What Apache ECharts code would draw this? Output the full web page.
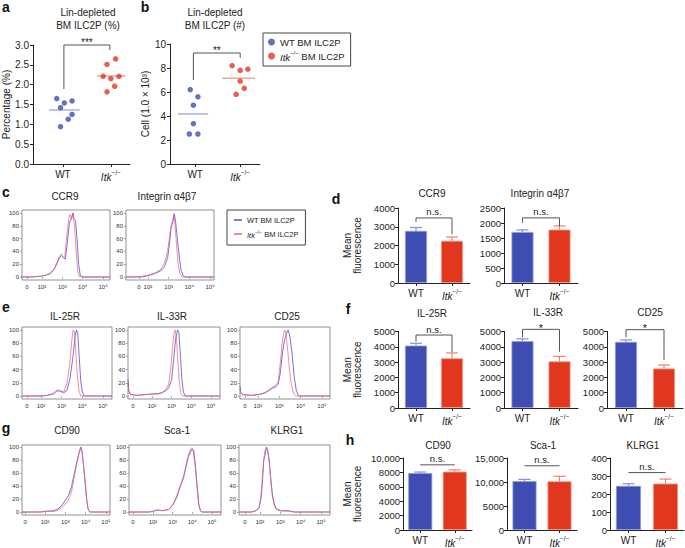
<!DOCTYPE html>
<html><head><meta charset="utf-8">
<script src="https://cdn.jsdelivr.net/npm/echarts@6/dist/echarts.min.js"></script>
<style>html,body{margin:0;padding:0;background:#fff}#main{width:685px;height:548px}</style>
</head><body><div id="main"></div>
<script>
// ================= DATA =================
const catLabels = ['WT', 'Itk'];
// panel a: Lin-depleted BM ILC2P (%)
const pctWT = [1.65, 1.54, 1.42, 1.59, 1.25, 1.13, 0.94];
const pctWTjitter = [-0.13, 0.03, -0.05, 0.19, 0.19, 0.11, -0.05];
const pctKO = [2.51, 2.65, 2.21, 2.15, 2.21, 1.82, 1.96];
const pctKOjitter = [-0.08, 0.10, -0.16, 0.00, 0.17, -0.08, 0.08];
// panel b: Lin-depleted BM ILC2P (#), x1000 cells
const cellWT = [6.2, 5.6, 4.9, 3.36, 2.5, 2.5];
const cellWTjitter = [-0.11, 0.06, -0.04, -0.04, -0.13, 0.06];
const cellKO = [8.2, 7.8, 7.9, 6.9, 6.3, 5.8];
const cellKOjitter = [-0.18, 0.00, 0.17, 0.00, 0.09, -0.09];

// flow histograms: [log10 position (decades), % of max]
const histTickText = ['0', '10\u00b2', '10\u00b3', '10\u2074', '10\u2075'];
const histYTicks = [0, 20, 40, 60, 80, 100];
const ccr9WT = [[1.0,0],[1.5,0],[1.9,1],[2.2,3],[2.4,5],[2.6,12],[2.75,22],[2.85,30],[2.95,33],[3.05,30],[3.15,28],[3.25,55],[3.35,85],[3.45,92],[3.52,100],[3.58,90],[3.65,88],[3.72,60],[3.8,20],[3.88,3],[4.0,0],[5.34,0]];
const ccr9KO = [[1.0,0],[1.9,1],[2.2,3],[2.4,6],[2.6,13],[2.75,24],[2.85,32],[2.95,36],[3.05,31],[3.12,32],[3.22,65],[3.32,92],[3.38,98],[3.45,90],[3.52,99],[3.6,80],[3.68,40],[3.75,10],[3.82,1],[4.0,0],[5.34,0]];
const itgWT = [[0.94,0],[1.7,0],[2.0,2],[2.3,5],[2.6,9],[2.8,16],[2.95,30],[3.05,55],[3.12,78],[3.2,85],[3.27,99],[3.33,88],[3.42,60],[3.52,30],[3.6,10],[3.7,2],[3.8,0],[5.19,0]];
const itgKO = [[0.94,0],[1.7,1],[2.0,3],[2.3,6],[2.6,11],[2.8,22],[2.95,40],[3.05,65],[3.12,82],[3.18,86],[3.25,97],[3.3,85],[3.38,50],[3.46,20],[3.55,5],[3.65,0],[5.19,0]];
const il25WT = [[1.08,0],[2.0,0],[2.3,1],[2.6,3],[2.75,7],[2.85,8],[2.95,7],[3.1,5],[3.25,8],[3.4,25],[3.55,60],[3.65,90],[3.72,100],[3.78,95],[3.85,60],[3.92,25],[4.0,6],[4.1,0],[5.44,0]];
const il25KO = [[1.08,0],[2.0,0],[2.3,1],[2.6,4],[2.75,9],[2.85,9],[2.95,8],[3.1,6],[3.25,18],[3.38,45],[3.48,80],[3.55,100],[3.62,98],[3.68,70],[3.75,35],[3.83,10],[3.92,0],[5.44,0]];
const il33WT = [[0.78,25],[0.82,8],[0.9,3],[1.2,1],[1.6,2],[2.0,3],[2.3,3],[2.5,5],[2.7,8],[2.85,12],[3.0,25],[3.1,55],[3.2,85],[3.3,100],[3.37,96],[3.45,60],[3.52,25],[3.6,6],[3.7,0],[5.46,0]];
const il33KO = [[0.78,18],[0.82,6],[0.9,2],[1.2,1],[1.6,2],[2.0,3],[2.3,4],[2.5,5],[2.7,9],[2.85,18],[2.95,40],[3.05,75],[3.12,95],[3.18,100],[3.25,85],[3.32,50],[3.4,18],[3.48,4],[3.58,0],[5.46,0]];
const cd25WT = [[1.16,15],[1.2,5],[1.3,2],[1.7,1],[2.0,2],[2.3,4],[2.5,8],[2.7,12],[2.85,14],[2.95,18],[3.05,35],[3.15,65],[3.25,85],[3.35,95],[3.42,100],[3.5,90],[3.6,65],[3.7,30],[3.8,8],[3.9,1],[4.0,0],[5.38,0]];
const cd25KO = [[1.16,10],[1.2,4],[1.3,2],[1.7,1],[2.0,2],[2.3,5],[2.5,9],[2.7,14],[2.85,17],[2.95,22],[3.05,50],[3.15,85],[3.25,100],[3.3,97],[3.38,75],[3.48,40],[3.58,15],[3.68,3],[3.78,0],[5.38,0]];
const cd90WT = [[0.87,0],[1.8,0],[2.0,1],[2.4,2],[2.6,4],[2.8,9],[3.0,18],[3.15,25],[3.3,38],[3.45,60],[3.55,75],[3.62,82],[3.7,95],[3.77,100],[3.83,92],[3.9,70],[3.98,45],[4.05,20],[4.12,5],[4.2,0],[5.2,0]];
const cd90KO = [[0.87,0],[1.8,0],[2.0,1],[2.4,1],[2.6,2],[2.8,6],[3.0,12],[3.15,18],[3.3,30],[3.45,55],[3.55,72],[3.62,85],[3.7,92],[3.77,98],[3.83,90],[3.9,72],[3.98,45],[4.05,20],[4.12,5],[4.2,0],[5.2,0]];
const sca1WT = [[0.78,0],[1.8,0],[2.0,1],[2.2,3],[2.5,2],[2.8,4],[3.0,10],[3.2,22],[3.4,40],[3.55,52],[3.65,65],[3.8,85],[3.92,93],[4.0,97],[4.07,95],[4.15,75],[4.25,40],[4.33,12],[4.42,2],[4.5,0],[5.46,0]];
const sca1KO = [[0.78,0],[1.8,0],[2.0,1],[2.2,3],[2.5,2],[2.8,4],[3.0,11],[3.2,24],[3.4,42],[3.55,55],[3.65,68],[3.8,88],[3.92,97],[3.98,99],[4.05,92],[4.15,70],[4.25,35],[4.33,10],[4.42,1],[4.5,0],[5.46,0]];
const klrg1WT = [[0.97,0],[1.6,0],[1.8,2],[1.95,6],[2.05,20],[2.12,45],[2.18,78],[2.25,88],[2.32,100],[2.38,95],[2.45,80],[2.52,55],[2.6,30],[2.7,12],[2.8,5],[3.0,2],[3.4,2],[3.7,0],[5.44,0]];
const klrg1KO = [[0.97,0],[1.6,0],[1.8,2],[1.95,7],[2.05,25],[2.12,55],[2.18,80],[2.25,95],[2.3,98],[2.38,94],[2.45,78],[2.52,50],[2.6,27],[2.7,10],[2.8,4],[3.0,2],[3.4,1],[3.7,0],[5.44,0]];

// mean fluorescence bar charts
const barMarkers = ['CCR9', 'Integrin \u03b14\u03b27', 'IL-25R', 'IL-33R', 'CD25', 'CD90', 'Sca-1', 'KLRG1'];
const barWTmean = [2780, 1700, 4080, 4370, 4320, 7900, 10200, 245];
const barWTerr  = [180, 70, 150, 150, 130, 150, 350, 12];
const barKOmean = [2250, 1780, 3250, 3050, 2580, 8100, 10150, 258];
const barKOerr  = [200, 120, 350, 320, 230, 250, 1050, 25];
const barSig    = ['n.s.', 'n.s.', 'n.s.', '*', '*', 'n.s.', 'n.s.', 'n.s.'];
const barBracketTop   = [3470, 2170, 4770, 5140, 5120, 9050, 13380, 319];
const barBracketLeft  = [3250, 2010, 4330, 4620, 4620, 9050, 13380, 319];
const barBracketRight = [2600, 1900, 3650, 3680, 3140, 9050, 13380, 319];
const barYMax = [4000, 2500, 5000, 5000, 5000, 10000, 15000, 400];
const barYInterval = [1000, 500, 1000, 1000, 1000, 2000, 5000, 100];

// ================= STYLE / LAYOUT =================
const FONT = "'Liberation Sans', Arial, Helvetica, sans-serif";
const BLUE = '#3f4db3', RED = '#e2371f';
const BLUE_L = '#a8b2e2', RED_L = '#f3a797';
const HBLUE = '#5a4ccb', HRED = '#ec6478';
const AX = '#222';
const itkRich = {
  it: {fontStyle: 'italic', fontSize: 10, fontFamily: FONT, color: AX, lineHeight: 13, verticalAlign: 'bottom'},
  sup: {fontSize: 6.5, fontFamily: FONT, color: AX, lineHeight: 7, verticalAlign: 'top'}
};
function catFmt(v) { return v === 'Itk' ? '{it|Itk}{sup|\u2212/\u2212}' : v; }

const grids = [], xAxes = [], yAxes = [], series = [], graphics = [];

function bracketSeries(gi, data, label, color, fs, dy) {
  return {
    type: 'custom', xAxisIndex: gi, yAxisIndex: gi, silent: true, z: 5,
    data: data, encode: {x: [0, 1], y: [2, 3, 4]},
    renderItem: function (params, api) {
      const x0 = api.value(0), x1 = api.value(1);
      const pl = api.coord([x0, api.value(3)]);
      const pt0 = api.coord([x0, api.value(2)]);
      const pt1 = api.coord([x1, api.value(2)]);
      const pr = api.coord([x1, api.value(4)]);
      return {type: 'group', children: [
        {type: 'polyline', shape: {points: [pl, pt0, pt1, pr]}, style: {stroke: color, fill: null, lineWidth: 1}},
        {type: 'text', x: (pt0[0] + pt1[0]) / 2, y: pt0[1] - 1 + (dy || 0),
         style: {text: label, align: 'center', verticalAlign: 'bottom', fontSize: fs, fontFamily: FONT, fill: '#222'}}
      ]};
    }
  };
}

// ---------- scatter panels a, b ----------
function scatterPanel(cfg) {
  const gi = grids.length;
  grids.push({left: cfg.grid[0], top: cfg.grid[1], width: cfg.grid[2], height: cfg.grid[3]});
  xAxes.push({gridIndex: gi, type: 'value', min: cfg.xr[0], max: cfg.xr[1],
    axisLine: {show: true, lineStyle: {color: AX, width: 1}}, splitLine: {show: false},
    axisTick: {show: true, customValues: [1, 2], length: 3, lineStyle: {color: AX}},
    axisLabel: {customValues: [1, 2], margin: 5, fontSize: 10, fontFamily: FONT, color: AX,
      formatter: v => catFmt(catLabels[Math.round(v) - 1]), rich: itkRich}});
  yAxes.push({gridIndex: gi, type: 'value', min: 0, max: cfg.ymax, interval: cfg.interval,
    axisLine: {show: true, lineStyle: {color: AX, width: 1}}, splitLine: {show: false},
    axisTick: {show: true, length: 3, lineStyle: {color: AX}},
    axisLabel: {fontSize: 10, fontFamily: FONT, color: AX, margin: 4, formatter: cfg.yfmt},
    name: cfg.yname, nameLocation: 'middle', nameGap: cfg.nameGap, nameRotate: 90,
    nameTextStyle: {fontSize: 10, fontFamily: FONT, color: AX}});
  const mWT = cfg.wt.reduce((a, b) => a + b, 0) / cfg.wt.length;
  const mKO = cfg.ko.reduce((a, b) => a + b, 0) / cfg.ko.length;
  series.push({type: 'line', xAxisIndex: gi, yAxisIndex: gi, silent: true, symbol: 'none', z: 1,
    lineStyle: {color: BLUE_L, width: 1.5}, data: [[1 + cfg.mlWT[0], mWT], [1 + cfg.mlWT[1], mWT]]});
  series.push({type: 'line', xAxisIndex: gi, yAxisIndex: gi, silent: true, symbol: 'none', z: 1,
    lineStyle: {color: RED_L, width: 1.5}, data: [[2 + cfg.mlKO[0], mKO], [2 + cfg.mlKO[1], mKO]]});
  series.push({name: 'WT', type: 'scatter', xAxisIndex: gi, yAxisIndex: gi, symbolSize: 5.5, z: 3,
    itemStyle: {color: BLUE}, data: cfg.wt.map((v, i) => [1 + cfg.wtj[i], v])});
  series.push({name: 'Itk', type: 'scatter', xAxisIndex: gi, yAxisIndex: gi, symbolSize: 5.5, z: 3,
    itemStyle: {color: RED}, data: cfg.ko.map((v, i) => [2 + cfg.koj[i], v])});
  series.push(bracketSeries(gi, [cfg.bracket], cfg.sig, '#555', 10, 3));
}
scatterPanel({grid: [33, 45, 97, 119], xr: [0.375, 2.4], ymax: 3, interval: 0.5, yfmt: v => v.toFixed(1),
  yname: 'Percentage (%)', nameGap: 19, wt: pctWT, wtj: pctWTjitter, ko: pctKO, koj: pctKOjitter,
  mlWT: [-0.29, 0.35], mlKO: [-0.29, 0.31], bracket: [1.02, 1.98, 3.0, 1.89, 2.87], sig: '***'});
scatterPanel({grid: [170, 44, 90, 120], xr: [0.44, 2.44], ymax: 10, interval: 2, yfmt: v => String(v),
  yname: 'Cell (1.0 \u00d7 10\u00b3)', nameGap: 14, wt: cellWT, wtj: cellWTjitter, ko: cellKO, koj: cellKOjitter,
  mlWT: [-0.38, 0.29], mlKO: [-0.4, 0.33], bracket: [0.96, 2.0, 9.25, 7.0, 8.83], sig: '**'});

// ---------- histogram panels c, e, g ----------
const histPanels = [
  {wt: ccr9WT, ko: ccr9KO, grid: [22, 210, 88, 70], y: [-4.7, 104.7], x: [1.02, 5.34], zero: 1.26, title: [65, 196], name: 'CCR9'},
  {wt: itgWT, ko: itgKO, grid: [126, 210, 88, 70], y: [-4.7, 104.7], x: [0.94, 5.19], zero: 1.56, title: [167, 196], name: 'Integrin \u03b14\u03b27'},
  {wt: il25WT, ko: il25KO, grid: [22, 327, 90, 72], y: [-4.5, 104.5], x: [1.08, 5.44], zero: 1.32, title: [65, 316], name: 'IL-25R'},
  {wt: il33WT, ko: il33KO, grid: [128, 327, 92, 72], y: [-4.5, 104.5], x: [0.78, 5.46], zero: 1.03, title: [172, 316], name: 'IL-33R'},
  {wt: cd25WT, ko: cd25KO, grid: [240, 327, 90, 72], y: [-4.5, 104.5], x: [1.16, 5.38], zero: 1.39, title: [287, 316], name: 'CD25'},
  {wt: cd90WT, ko: cd90KO, grid: [22, 445, 88, 70], y: [-4.6, 103.1], x: [0.87, 5.2], zero: 1.02, title: [67, 430], name: 'CD90'},
  {wt: sca1WT, ko: sca1KO, grid: [129, 445, 92, 70], y: [-4.6, 103.1], x: [0.78, 5.46], zero: 0.98, title: [177, 430], name: 'Sca-1'},
  {wt: klrg1WT, ko: klrg1KO, grid: [239, 445, 91, 70], y: [-4.6, 103.1], x: [0.97, 5.44], zero: 1.26, title: [287, 430], name: 'KLRG1'}
];
histPanels.forEach(p => {
  const gi = grids.length;
  grids.push({left: p.grid[0], top: p.grid[1], width: p.grid[2], height: p.grid[3], show: true,
    borderColor: '#777', borderWidth: 0.8, backgroundColor: 'transparent'});
  const xv = [p.zero, 2, 3, 4, 5];
  xAxes.push({gridIndex: gi, type: 'value', min: p.x[0], max: p.x[1], axisLine: {show: false}, splitLine: {show: false},
    axisTick: {show: true, customValues: xv, length: 2, lineStyle: {color: '#777', width: 0.6}},
    axisLabel: {customValues: xv, fontSize: 6, margin: 4, color: '#333', fontFamily: FONT, hideOverlap: false,
      formatter: v => { const i = xv.findIndex(t => Math.abs(t - v) < 1e-6); return i >= 0 ? histTickText[i] : ''; }}});
  yAxes.push({gridIndex: gi, type: 'value', min: p.y[0], max: p.y[1], axisLine: {show: false}, splitLine: {show: false},
    axisTick: {show: true, customValues: histYTicks, length: 2, lineStyle: {color: '#777', width: 0.6}},
    axisLabel: {customValues: histYTicks, fontSize: 6, margin: 3, color: '#333', fontFamily: FONT}});
  series.push({name: 'WT hist', type: 'line', xAxisIndex: gi, yAxisIndex: gi, showSymbol: false, symbol: 'none',
    lineStyle: {color: HBLUE, width: 0.8}, itemStyle: {color: HBLUE}, data: p.wt});
  series.push({name: 'Itk hist', type: 'line', xAxisIndex: gi, yAxisIndex: gi, showSymbol: false, symbol: 'none',
    lineStyle: {color: HRED, width: 0.8, opacity: 0.9}, itemStyle: {color: HRED}, data: p.ko});
  graphics.push({type: 'text', x: p.title[0], y: p.title[1],
    style: {text: p.name, align: 'center', verticalAlign: 'middle', fontSize: 10, fontFamily: FONT, fill: '#222'}});
});

// ---------- bar panels d, f, h ----------
const barLayout = [
  {grid: [398, 208, 72, 75], title: [432, 193], yname: true, nameGap: 36, bw: 22},
  {grid: [504, 208, 74, 75], title: [540, 193], bw: 22},
  {grid: [398, 331.5, 72, 76.5], title: [432, 313], yname: true, nameGap: 36, bw: 22},
  {grid: [504, 331.5, 74, 76.5], title: [548, 312], bw: 22},
  {grid: [607, 331.5, 76, 76.5], title: [650, 312], bw: 22},
  {grid: [403, 458, 69, 74], title: [438, 445], yname: true, nameGap: 41, bw: 24},
  {grid: [507, 458, 70, 74], title: [543, 445], bw: 24},
  {grid: [610, 458, 74, 74], title: [643, 445], bw: 25}
];
barLayout.forEach((L, k) => {
  const gi = grids.length;
  grids.push({left: L.grid[0], top: L.grid[1], width: L.grid[2], height: L.grid[3]});
  xAxes.push({gridIndex: gi, type: 'category', data: catLabels,
    axisLine: {show: true, lineStyle: {color: AX, width: 1}},
    axisTick: {show: true, alignWithLabel: true, interval: 0, length: 3, lineStyle: {color: AX}},
    axisLabel: {interval: 0, fontSize: 10, fontFamily: FONT, color: AX, margin: 5, formatter: catFmt, rich: itkRich}});
  yAxes.push({gridIndex: gi, type: 'value', min: 0, max: barYMax[k], interval: barYInterval[k],
    axisLine: {show: true, lineStyle: {color: AX, width: 1}}, splitLine: {show: false},
    axisTick: {show: true, length: 3, lineStyle: {color: AX}},
    axisLabel: {fontSize: 9.5, fontFamily: FONT, color: AX, margin: 3,
      formatter: v => v >= 10000 ? v.toLocaleString('en-US') : String(v)},
    name: L.yname ? 'Mean\nfluorescence' : '', nameLocation: 'middle', nameRotate: 90, nameGap: L.nameGap || 0,
    nameTextStyle: {fontSize: 10, fontFamily: FONT, color: AX, lineHeight: 10}});
  series.push({type: 'bar', xAxisIndex: gi, yAxisIndex: gi, barWidth: L.bw, silent: true, z: 2,
    data: [
      {value: barWTmean[k], itemStyle: {color: BLUE, borderColor: '#8e99dc', borderWidth: 0.8}},
      {value: barKOmean[k], itemStyle: {color: RED, borderColor: '#f39a86', borderWidth: 0.8}}
    ]});
  series.push({type: 'custom', xAxisIndex: gi, yAxisIndex: gi, silent: true, z: 3,
    data: [[0, barWTmean[k], barWTerr[k]], [1, barKOmean[k], barKOerr[k]]], encode: {x: 0, y: 1},
    renderItem: function (params, api) {
      const c = api.value(0), m = api.value(1), e = api.value(2);
      const p0 = api.coord([c, m]), p1 = api.coord([c, m + e]);
      const col = c === 0 ? '#8390d6' : '#f0806a';
      return {type: 'group', children: [
        {type: 'line', shape: {x1: p0[0], y1: p0[1], x2: p1[0], y2: p1[1]}, style: {stroke: col, lineWidth: 1.2}},
        {type: 'line', shape: {x1: p1[0] - 6, y1: p1[1], x2: p1[0] + 6, y2: p1[1]}, style: {stroke: col, lineWidth: 1.2}}
      ]};
    }});
  const isStar = barSig[k] === '*';
  series.push(bracketSeries(gi, [[0, 1, barBracketTop[k], barBracketLeft[k], barBracketRight[k]]], barSig[k], '#555',
    isStar ? 11 : 9.5, isStar ? 5 : 0));
  graphics.push({type: 'text', x: L.title[0], y: L.title[1],
    style: {text: barMarkers[k], align: 'center', verticalAlign: 'middle', fontSize: 10, fontFamily: FONT, fill: '#222'}});
});

// ---------- titles & panel letters ----------
[['Lin-depleted', 88, 12], ['BM ILC2P (%)', 88, 25], ['Lin-depleted', 215, 12], ['BM ILC2P (#)', 215, 25]].forEach(t =>
  graphics.push({type: 'text', x: t[1], y: t[2], style: {text: t[0], align: 'center', verticalAlign: 'middle', fontSize: 10, fontFamily: FONT, fill: '#222'}}));
[['a', 6, 7], ['b', 145, 7], ['c', 6, 192], ['d', 336, 199], ['e', 6, 307], ['f', 348, 309], ['g', 6, 428], ['h', 350, 440]].forEach(t =>
  graphics.push({type: 'text', x: t[1], y: t[2], style: {text: t[0], align: 'center', verticalAlign: 'middle', fontSize: 14, fontWeight: 'bold', fontFamily: FONT, fill: '#111'}}));

const legendFmt = name => name.indexOf('WT') === 0 ? 'WT BM ILC2P' : '{it|Itk}{sup|\u2212/\u2212} BM ILC2P';

const option = {
  animation: false,
  backgroundColor: '#fff',
  grid: grids, xAxis: xAxes, yAxis: yAxes, series: series,
  legend: [
    {data: ['WT', 'Itk'], left: 263, top: 33, orient: 'vertical', icon: 'circle', itemWidth: 7, itemHeight: 7,
     itemGap: 3, padding: [4, 6, 4, 5], borderColor: '#444', borderWidth: 1, selectedMode: false, formatter: legendFmt,
     textStyle: {fontSize: 9.5, fontFamily: FONT, color: '#222',
       rich: {it: {fontStyle: 'italic', fontSize: 9.5, fontFamily: FONT, lineHeight: 12, verticalAlign: 'bottom'},
              sup: {fontSize: 6, fontFamily: FONT, lineHeight: 6, verticalAlign: 'top'}}}},
    {data: ['WT hist', 'Itk hist'], left: 227, top: 210, orient: 'vertical', icon: 'rect', itemWidth: 8, itemHeight: 1.5,
     itemGap: 5, padding: [6, 7, 6, 7], borderColor: '#444', borderWidth: 1, selectedMode: false, formatter: legendFmt,
     textStyle: {fontSize: 7.5, fontFamily: FONT, color: '#222',
       rich: {it: {fontStyle: 'italic', fontSize: 7.5, fontFamily: FONT, lineHeight: 10, verticalAlign: 'bottom'},
              sup: {fontSize: 5, fontFamily: FONT, lineHeight: 5, verticalAlign: 'top'}}}}
  ],
  graphic: graphics
};
const chart = echarts.init(document.getElementById('main'), null, {renderer: 'svg', width: 685, height: 548});
chart.setOption(option);
</script>
</body></html>
